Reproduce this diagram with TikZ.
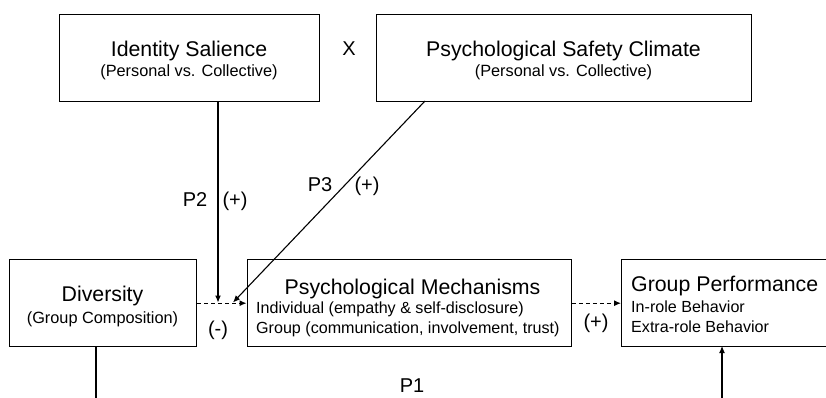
\documentclass[tikz,border=0pt]{standalone}
\usepackage{fontspec}
\setmainfont{Liberation Sans}
\usetikzlibrary{arrows.meta}
\tikzset{
  box/.style={draw, line width=1.4pt, inner sep=0pt, anchor=north west},
  ttl/.style={anchor=base, inner sep=0pt, font=\fontsize{21.3}{25}\selectfont},
  sub/.style={anchor=base, inner sep=0pt, font=\fontsize{16.3}{20}\selectfont},
  subl/.style={anchor=base west, inner sep=0pt, font=\fontsize{16.1}{20}\selectfont},
  lbl/.style={anchor=base, inner sep=0pt, font=\fontsize{20}{24}\selectfont},
  conn/.style={line width=1.1pt},
  tip/.style={-{Latex[length=7pt,width=6pt]}},
  dsh/.style={line width=1.1pt, dash pattern=on 4pt off 3pt}
}
\begin{document}
\begin{tikzpicture}[x=1pt,y=-1pt]
\useasboundingbox (0,0) rectangle (826,397);
\clip (0,0) rectangle (826,397);
% boxes
\node[box, minimum width=260pt, minimum height=87pt] (is) at (59,14) {};
\node[box, minimum width=375pt, minimum height=87pt] (ps) at (376,14) {};
\node[box, minimum width=187pt, minimum height=87pt] (dv) at (9,259) {};
\node[box, minimum width=324pt, minimum height=87pt] (pm) at (246.5,259) {};
\node[box, minimum width=240pt, minimum height=87pt] (gp) at (621,259) {};
% texts
\node[ttl] (ist) at (189,56) {Identity Salience};
\node[sub] (iss) at (189,76) {(Personal vs. Collective)};
\node[ttl] (pst) at (563.5,56) {Psychological Safety Climate};
\node[sub] (pss) at (563.5,76) {(Personal vs. Collective)};
\node[lbl] (x) at (349,55) {X};
\node[ttl] (dvt) at (102.5,301) {Diversity};
\node[sub] (dvs) at (102.5,323) {(Group Composition)};
\node[ttl] (pmt) at (412.5,294) {Psychological Mechanisms};
\node[subl] (pm1) at (256,313) {Individual (empathy \& self-disclosure)};
\node[subl] (pm2) at (256,333) {Group (communication, involvement, trust)};
\node[ttl, anchor=base west] (gpt) at (631,291) {Group Performance};
\node[subl] (gp1) at (631,312) {In-role Behavior};
\node[subl] (gp2) at (631,332) {Extra-role Behavior};
% labels
\node[lbl] (p2) at (195,206) {P2};
\node[lbl] (p2s) at (235,206) {(+)};
\node[lbl] (p3) at (320,191) {P3};
\node[lbl] (p3s) at (367,191) {(+)};
\node[lbl] (minus) at (218,335) {(-)};
\node[lbl] (plus) at (596,328) {(+)};
\node[lbl] (p1) at (412,392) {P1};
% coordinates
\coordinate (isb) at (218,101);
\coordinate (m1) at (218,302.5);
\coordinate (psb) at (425,101);
\coordinate (m2) at (233,302.5);
\coordinate (dvb) at (96,346);
\coordinate (dvd) at (96,410);
\coordinate (gpb) at (722,346);
\coordinate (gpd) at (722,410);
% connectors
\draw[dsh, tip] (dv.east) -- (pm.west);
\draw[dsh, tip] (pm.east) -- (gp.west);
\draw[conn, tip] (isb) -- (m1);
\draw[conn, tip] (psb) -- (m2);
\draw[conn] (dvb) -- (dvd);
\draw[conn, tip] (gpd) -- (gpb);
\end{tikzpicture}
\end{document}
